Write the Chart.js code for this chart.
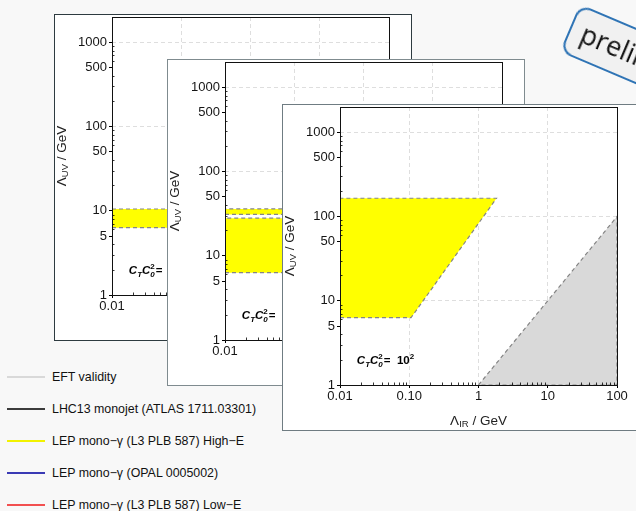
<!DOCTYPE html>
<html>
<head>
<meta charset="utf-8">
<script src="https://cdn.jsdelivr.net/npm/chart.js@4.4.0/dist/chart.umd.min.js"></script>
<style>
  body {
    margin: 0;
    width: 636px;
    height: 511px;
    overflow: hidden;
    position: relative;
    background: #f8f8f8;
    font-family: "Liberation Sans", Arial, sans-serif;
  }
  .card {
    position: absolute;
    width: 358px;
    height: 327px;
    box-sizing: border-box;
    border: 1px solid #34434a;
    background: #fff;
  }
  .card canvas { display: block; }
  #card1 { left: 54px; top: 14px; border-color: #2e3b40; }
  #card2 { left: 167px; top: 59px; border-color: #7f8b8f; }
  #card3 { left: 282px; top: 104px; border-color: #6f7c82; }

  #legend { position: absolute; left: 7px; top: 361px; }
  .item { height: 32px; display: flex; align-items: center; font-size: 12.4px; color: #111; }
  .item span.line { display: inline-block; width: 38px; height: 1.6px; margin-right: 7px; }

  #badge {
    position: absolute;
    left: 580px;
    top: 4px;
    width: 200px;
    height: 52px;
    box-sizing: border-box;
    border: 2px solid #2f74b5;
    border-radius: 12px;
    background: #f1f1f1;
    transform-origin: 0 0;
    transform: rotate(23deg);
    font-family: "Open Sans", sans-serif;
    font-size: 27px;
    line-height: 46px;
    padding-left: 11px;
    color: #111;
  }
</style>
</head>
<body>
<div id="legend">
  <div class="item"><span class="line" style="background:#d9d9d9"></span>EFT validity</div>
  <div class="item"><span class="line" style="background:#3c3c3c"></span>LHC13 monojet (ATLAS 1711.03301)</div>
  <div class="item"><span class="line" style="background:#f2f200"></span>LEP mono−γ (L3 PLB 587) High−E</div>
  <div class="item"><span class="line" style="background:#3a3ab4"></span>LEP mono−γ (OPAL 0005002)</div>
  <div class="item"><span class="line" style="background:#f25050"></span>LEP mono−γ (L3 PLB 587) Low−E</div>
</div>

<div class="card" id="card1"><canvas id="c1" width="356" height="325"></canvas></div>
<div class="card" id="card2"><canvas id="c2" width="356" height="325"></canvas></div>
<div class="card" id="card3"><canvas id="c3" width="356" height="325"></canvas></div>

<div id="badge">preliminary</div>

<script>
// Λ_IR axis (GeV)
const xTicks = [0.01, 0.1, 1, 10, 100];
const xTickLabels = ["0.01", "0.10", "1", "10", "100"];
// Λ_UV axis (GeV)
const yTicks = [1, 5, 10, 50, 100, 500, 1000];
const yTickLabels = ["1", "5", "10", "50", "100", "500", "1000"];
const yMax = 2000;
const minorSteps = [2, 3, 4, 5, 6, 7, 8, 9];

// C_T C_0^2 = 10^n on each panel
const couplingExp = ["0", "1", "2"];

// EFT validity region (Λ_UV < Λ_IR), same on every panel
const eftIR = [1, 100, 100, 1];
const eftUV = [1, 100, 1, 1];

// LEP mono-γ (L3 High-E) excluded regions, polygon corners
const lep1IR = [0.01, 0.1, 0.17, 0.01, 0.01];
const lep1UV = [6.3, 6.3, 10.5, 10.5, 6.3];
const lep2IR = [0.01, 0.1, 0.42, 0.01, 0.01];
const lep2UV = [6.3, 6.3, 28, 28, 6.3];
const lep2bIR = [0.01, 0.47, 0.58, 0.01, 0.01];
const lep2bUV = [31, 31, 36, 36, 31];
const lep3IR = [0.01, 0.106, 1.82, 0.01, 0.01];
const lep3UV = [6.3, 6.3, 165, 165, 6.3];

const FONT = '"Liberation Sans", Arial, sans-serif';

function toPoints(xs, ys) {
  return xs.map((x, i) => ({ x: x, y: ys[i] }));
}

function region(xs, ys, color) {
  return {
    data: toPoints(xs, ys),
    backgroundColor: color,
    fill: "shape",
    borderColor: "#858585",
    borderWidth: 1.2,
    borderDash: [4, 3],
    pointRadius: 0,
    tension: 0,
  };
}

// major + minor tick values for a log axis
function logTicks(majors, lo, hi) {
  const all = majors.slice();
  for (let d = lo; d < hi; d *= 10) {
    minorSteps.forEach((k) => {
      const v = Math.round(d * k * 1000) / 1000;
      if (v <= hi && !majors.includes(v)) all.push(v);
    });
  }
  return all.sort((a, b) => a - b);
}

const xAll = logTicks(xTicks, 0.01, 100);
const yAll = logTicks(yTicks, 1, yMax);
const xGrid = [0.1, 1, 10];
const yGrid = [10, 100, 1000];

function drawAxisTitle(ctx, sub, cx, cy, vertical) {
  const big = "13.5px " + FONT;
  const small = "9.5px " + FONT;
  ctx.save();
  ctx.translate(cx, cy);
  if (vertical) ctx.rotate(-Math.PI / 2);
  ctx.fillStyle = "#222";
  ctx.textBaseline = "middle";
  ctx.font = big;
  const w1 = ctx.measureText("Λ").width;
  const w3 = ctx.measureText(" / GeV").width;
  ctx.font = small;
  const w2 = ctx.measureText(sub).width;
  let x = -(w1 + w2 + w3) / 2;
  ctx.font = big;
  ctx.fillText("Λ", x, 0);
  x += w1;
  ctx.font = small;
  ctx.fillText(sub, x, 3);
  x += w2;
  ctx.font = big;
  ctx.fillText(" / GeV", x, 0);
  ctx.restore();
}

function drawCoupling(ctx, x, y, exp) {
  const bi = "italic bold 11.5px " + FONT;
  const bis = "italic bold 8px " + FONT;
  const b = "bold 11.5px " + FONT;
  const bs = "bold 8px " + FONT;
  ctx.save();
  ctx.fillStyle = "#000";
  ctx.textBaseline = "alphabetic";
  const base = y + 4;
  const put = (t, f, dy) => {
    ctx.font = f;
    ctx.fillText(t, x, base + dy);
    return ctx.measureText(t).width;
  };
  x += put("C", bi, 0);
  x += put("T", bis, 3);
  x += put("C", bi, 0);
  ctx.font = bs;
  ctx.fillText("2", x, base - 5);
  x += put("0", bis, 3) + 1;
  x += put("=  10", b, 0);
  put(exp, bs, -5);
  ctx.restore();
}

const decorPlugin = {
  id: "decor",
  afterDatasetsDraw(chart, args, opts) {
    const ctx = chart.ctx;
    const a = chart.chartArea;
    const xs = chart.scales.x;
    const ys = chart.scales.y;
    ctx.save();
    // minor ticks, pointing inwards
    ctx.strokeStyle = "#000";
    ctx.lineWidth = 0.8;
    ctx.beginPath();
    xAll.forEach((v) => {
      if (xTicks.includes(v)) return;
      const px = Math.round(xs.getPixelForValue(v)) + 0.5;
      ctx.moveTo(px, a.bottom);
      ctx.lineTo(px, a.bottom - 2.5);
    });
    yAll.forEach((v) => {
      if (yTicks.includes(v)) return;
      const py = Math.round(ys.getPixelForValue(v)) + 0.5;
      ctx.moveTo(a.left, py);
      ctx.lineTo(a.left + 2.5, py);
    });
    ctx.stroke();
    // frame
    ctx.lineWidth = 1;
    ctx.strokeStyle = "#111";
    ctx.strokeRect(Math.round(a.left) + 0.5, Math.round(a.top) + 0.5,
      Math.round(a.right - a.left), Math.round(a.bottom - a.top));
    ctx.restore();

    drawCoupling(ctx, xs.getPixelForValue(0.0175), ys.getPixelForValue(2.0), opts.exp);
    drawAxisTitle(ctx, "UV", a.left - 50, (a.top + a.bottom) / 2, true);
    drawAxisTitle(ctx, "IR", (a.left + a.right) / 2, a.bottom + 36, false);
  },
};

function makePanel(id, datasets, exp) {
  const ctx = document.getElementById(id).getContext("2d");
  return new Chart(ctx, {
    type: "line",
    data: { datasets: datasets },
    plugins: [decorPlugin],
    options: {
      responsive: false,
      animation: false,
      layout: { padding: { top: 2, right: 22, left: 0, bottom: 0 } },
      plugins: {
        legend: { display: false },
        tooltip: { enabled: false },
        decor: { exp: exp },
      },
      scales: {
        x: {
          type: "logarithmic",
          min: 0.01,
          max: 100,
          afterBuildTicks: (axis) => { axis.ticks = xAll.map((v) => ({ value: v })); },
          afterFit: (s) => {
            s.height = 45;
            s.paddingLeft = 0;
            s.paddingRight = 0;
          },
          ticks: {
            autoSkip: false,
            maxRotation: 0,
            padding: 1,
            color: "#151515",
            font: { family: FONT, size: 13 },
            callback: (v) => {
              const i = xTicks.indexOf(v);
              return i >= 0 ? xTickLabels[i] : "";
            },
          },
          grid: {
            tickLength: 3,
            lineWidth: 1,
            tickWidth: 1,
            color: (c) => (c.tick && xGrid.includes(c.tick.value) ? "#dedede" : "rgba(0,0,0,0)"),
            tickColor: (c) => (c.tick && xTicks.includes(c.tick.value) ? "#000" : "rgba(0,0,0,0)"),
          },
          border: { display: false, dash: [4, 3] },
        },
        y: {
          type: "logarithmic",
          min: 1,
          max: yMax,
          afterBuildTicks: (axis) => { axis.ticks = yAll.map((v) => ({ value: v })); },
          afterFit: (s) => {
            s.width = 57;
            s.paddingTop = 0;
            s.paddingBottom = 0;
          },
          ticks: {
            autoSkip: false,
            padding: 2,
            color: "#151515",
            font: { family: FONT, size: 13 },
            callback: (v) => {
              const i = yTicks.indexOf(v);
              return i >= 0 ? yTickLabels[i] : "";
            },
          },
          grid: {
            tickLength: 3,
            lineWidth: 1,
            tickWidth: 1,
            color: (c) => (c.tick && yGrid.includes(c.tick.value) ? "#dedede" : "rgba(0,0,0,0)"),
            tickColor: (c) => (c.tick && yTicks.includes(c.tick.value) ? "#000" : "rgba(0,0,0,0)"),
          },
          border: { display: false, dash: [4, 3] },
        },
      },
    },
  });
}

const eftFill = "#d9d9d9";
const lepFill = "#ffff00";

makePanel("c1", [
  region(eftIR, eftUV, eftFill),
  region(lep1IR, lep1UV, lepFill),
], couplingExp[0]);

makePanel("c2", [
  region(eftIR, eftUV, eftFill),
  region(lep2IR, lep2UV, lepFill),
  region(lep2bIR, lep2bUV, lepFill),
], couplingExp[1]);

makePanel("c3", [
  region(eftIR, eftUV, eftFill),
  region(lep3IR, lep3UV, lepFill),
], couplingExp[2]);
</script>
</body>
</html>
